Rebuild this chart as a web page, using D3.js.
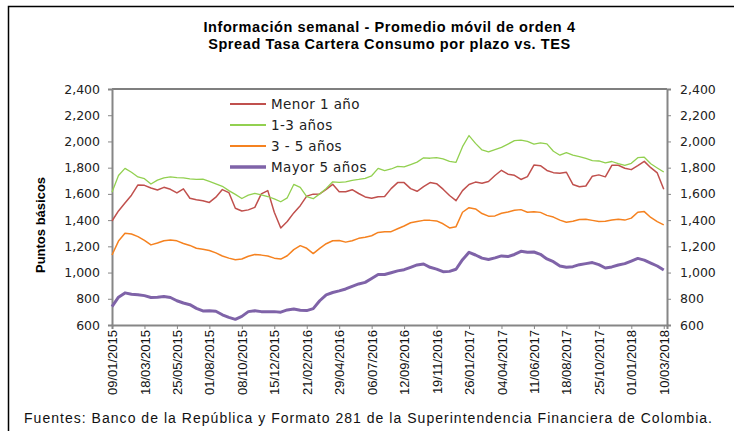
<!DOCTYPE html>
<html>
<head>
<meta charset="utf-8">
<script src="https://cdn.jsdelivr.net/npm/d3@7"></script>
<style>
  body { margin: 0; background: #fff; }
  svg { display: block; }
</style>
</head>
<body>
<svg id="chart" width="734" height="431"></svg>
<script>
// etiquetas del eje x, una cada 10 semanas
var tickLabels = ["09/01/2015", "18/03/2015", "25/05/2015", "01/08/2015", "08/10/2015", "15/12/2015",
  "21/02/2016", "29/04/2016", "06/07/2016", "12/09/2016", "19/11/2016", "26/01/2017",
  "04/04/2017", "11/06/2017", "18/08/2017", "25/10/2017", "01/01/2018", "10/03/2018"];
var TICK_STEP = 10;   // semanas entre etiquetas
var SAMPLE_STEP = 2;  // semanas entre puntos leidos
var LAST_WEEK = 171;

var yTicks = [600, 800, 1000, 1200, 1400, 1600, 1800, 2000, 2200, 2400];

// puntos basicos, cada 2 semanas
var menor1 = [1393,1470,1530,1590,1668,1665,1645,1630,1650,1635,
  1607,1638,1567,1555,1548,1535,1575,1633,1610,1490,
  1470,1478,1497,1600,1625,1460,1340,1390,1455,1510,
  1583,1598,1600,1635,1673,1617,1617,1632,1603,1577,
  1566,1578,1580,1640,1686,1686,1640,1620,1655,1686,
  1678,1636,1588,1548,1625,1672,1690,1681,1695,1740,
  1780,1750,1742,1710,1732,1820,1815,1779,1762,1758,
  1765,1672,1655,1660,1735,1745,1730,1818,1818,1796,
  1785,1815,1848,1800,1760,1635];
var de1a3 = [1612,1740,1795,1765,1729,1716,1675,1705,1722,1729,
  1724,1722,1715,1711,1712,1695,1677,1658,1625,1596,
  1565,1590,1604,1593,1580,1562,1540,1570,1672,1650,
  1579,1563,1600,1642,1692,1688,1692,1703,1710,1719,
  1738,1795,1778,1790,1810,1806,1824,1842,1875,1872,
  1876,1867,1848,1841,1960,2045,1985,1935,1920,1938,
  1955,1980,2006,2010,2000,1980,1989,1982,1925,1895,
  1915,1896,1884,1870,1854,1851,1836,1847,1830,1817,
  1833,1876,1880,1830,1798,1767];
var de3a5 = [1134,1240,1299,1294,1274,1245,1211,1226,1243,1248,
  1242,1222,1207,1185,1177,1168,1150,1126,1110,1098,
  1103,1124,1138,1133,1126,1110,1103,1128,1175,1205,
  1185,1145,1185,1220,1243,1245,1232,1243,1261,1270,
  1281,1306,1312,1312,1334,1355,1380,1389,1398,1398,
  1394,1372,1340,1350,1460,1495,1485,1450,1430,1432,
  1452,1462,1475,1480,1460,1464,1459,1436,1423,1400,
  1384,1391,1405,1406,1398,1390,1392,1400,1406,1400,
  1415,1460,1465,1420,1388,1364];
var mayor5 = [740,812,845,834,831,824,810,812,818,810,
  785,768,755,727,707,708,705,678,658,643,
  666,702,709,702,702,702,698,715,722,712,
  710,725,785,830,848,860,875,895,913,925,
  955,985,985,999,1013,1022,1040,1058,1065,1040,
  1026,1007,1009,1025,1098,1154,1134,1110,1100,1112,
  1127,1122,1138,1162,1155,1157,1139,1104,1083,1050,
  1040,1045,1060,1068,1076,1060,1035,1043,1058,1068,
  1088,1108,1095,1072,1050,1020];

var seriesNames = ["Menor 1 año", "1-3 años", "3 - 5 años", "Mayor 5 años"];
var seriesData = [menor1, de1a3, de3a5, mayor5];
var seriesColors = ["#C0504D", "#92D050", "#F58220", "#7F63A8"];
var seriesWidths = [1.5, 1.3, 1.5, 3];

var svg = d3.select("#chart");
var plotLeft = 112, plotRight = 667, plotTop = 89, plotBottom = 325;

var x = d3.scaleLinear().domain([0, LAST_WEEK]).range([plotLeft, plotRight]);
var y = d3.scaleLinear().domain([600, 2400]).range([plotBottom, plotTop]);

svg.append("rect").attr("width", 734).attr("height", 431).attr("fill", "#fff");
// marco exterior
svg.append("rect")
  .attr("x", 8.5).attr("y", 6.5).attr("width", 740).attr("height", 440)
  .attr("fill", "none").attr("stroke", "#000").attr("stroke-width", 1.5);

var sans = "'Liberation Sans', Arial, sans-serif";
var tickFont = "'DejaVu Sans', sans-serif";

// titulo
var cx = (plotLeft + plotRight) / 2;
var title = svg.append("text")
  .attr("text-anchor", "middle")
  .style("font-family", sans)
  .style("font-weight", "bold").style("font-size", "14.5px")
  .style("letter-spacing", "0.6px");
title.append("tspan").attr("x", cx).attr("y", 32)
  .text("Información semanal - Promedio móvil de orden 4");
title.append("tspan").attr("x", cx).attr("y", 49)
  .text("Spread Tasa Cartera Consumo  por plazo vs. TES");

// borde superior del area
svg.append("line").attr("x1", plotLeft).attr("x2", plotRight)
  .attr("y1", plotTop).attr("y2", plotTop)
  .attr("stroke", "#000").attr("stroke-width", 1.2);

var yLeft = svg.append("g").attr("transform", "translate(" + plotLeft + ",0)")
  .call(d3.axisLeft(y).tickValues(yTicks).tickSize(4).tickPadding(8).tickFormat(d3.format(",")));
var yRight = svg.append("g").attr("transform", "translate(" + plotRight + ",0)")
  .call(d3.axisRight(y).tickValues(yTicks).tickSize(4).tickPadding(9).tickFormat(d3.format(",")));

var xAxis = svg.append("g").attr("transform", "translate(0," + plotBottom + ")")
  .call(d3.axisBottom(x).tickValues(d3.range(0, tickLabels.length * TICK_STEP, TICK_STEP))
    .tickSize(4).tickFormat(function (d) { return tickLabels[d / TICK_STEP]; }));
xAxis.selectAll("text")
  .attr("transform", "rotate(-90)")
  .attr("text-anchor", "end")
  .attr("x", -5).attr("y", 0).attr("dy", "0.35em")
  .style("font-family", sans)
  .style("font-size", "13px").style("fill", "#111");

[yLeft, yRight].forEach(function (g) {
  g.selectAll("text").style("font-family", tickFont).style("font-size", "12.5px").style("fill", "#222");
});
[yLeft, yRight, xAxis].forEach(function (g) {
  g.select(".domain").attr("stroke", "#868686").attr("stroke-width", 2);
  g.selectAll(".tick line").attr("stroke", "#868686").attr("stroke-width", 1);
});

// titulo eje y
svg.append("text")
  .attr("transform", "translate(45," + ((plotTop + plotBottom) / 2 + 18) + ") rotate(-90)")
  .attr("text-anchor", "middle")
  .style("font-family", sans)
  .style("font-weight", "bold").style("font-size", "13px")
  .text("Puntos básicos");

// lineas
var line = d3.line()
  .x(function (d, i) { return x(i * SAMPLE_STEP); })
  .y(function (d) { return y(d); });

seriesData.forEach(function (values, k) {
  svg.append("path")
    .datum(values)
    .attr("fill", "none")
    .attr("stroke", seriesColors[k])
    .attr("stroke-width", seriesWidths[k])
    .attr("stroke-linejoin", "round")
    .attr("d", line);
});

// leyenda
var legend = svg.append("g").attr("transform", "translate(230,104)");
seriesNames.forEach(function (name, k) {
  var row = legend.append("g").attr("transform", "translate(0," + k * 21 + ")");
  row.append("line").attr("x1", 0).attr("x2", 36).attr("y1", 0).attr("y2", 0)
    .attr("stroke", seriesColors[k]).attr("stroke-width", seriesWidths[k] + 0.5);
  row.append("text").attr("x", 41).attr("y", 0).attr("dy", "0.36em")
    .style("font-family", tickFont).style("font-size", "13.5px")
    .style("letter-spacing", "0.4px").style("fill", "#222")
    .text(name);
});

// fuente
svg.append("text")
  .attr("x", 24).attr("y", 423)
  .attr("textLength", 688).attr("lengthAdjust", "spacing")
  .style("font-family", sans)
  .style("font-size", "14px").style("fill", "#111")
  .text("Fuentes: Banco de la República y Formato 281 de la Superintendencia Financiera de Colombia.");
</script>
</body>
</html>
